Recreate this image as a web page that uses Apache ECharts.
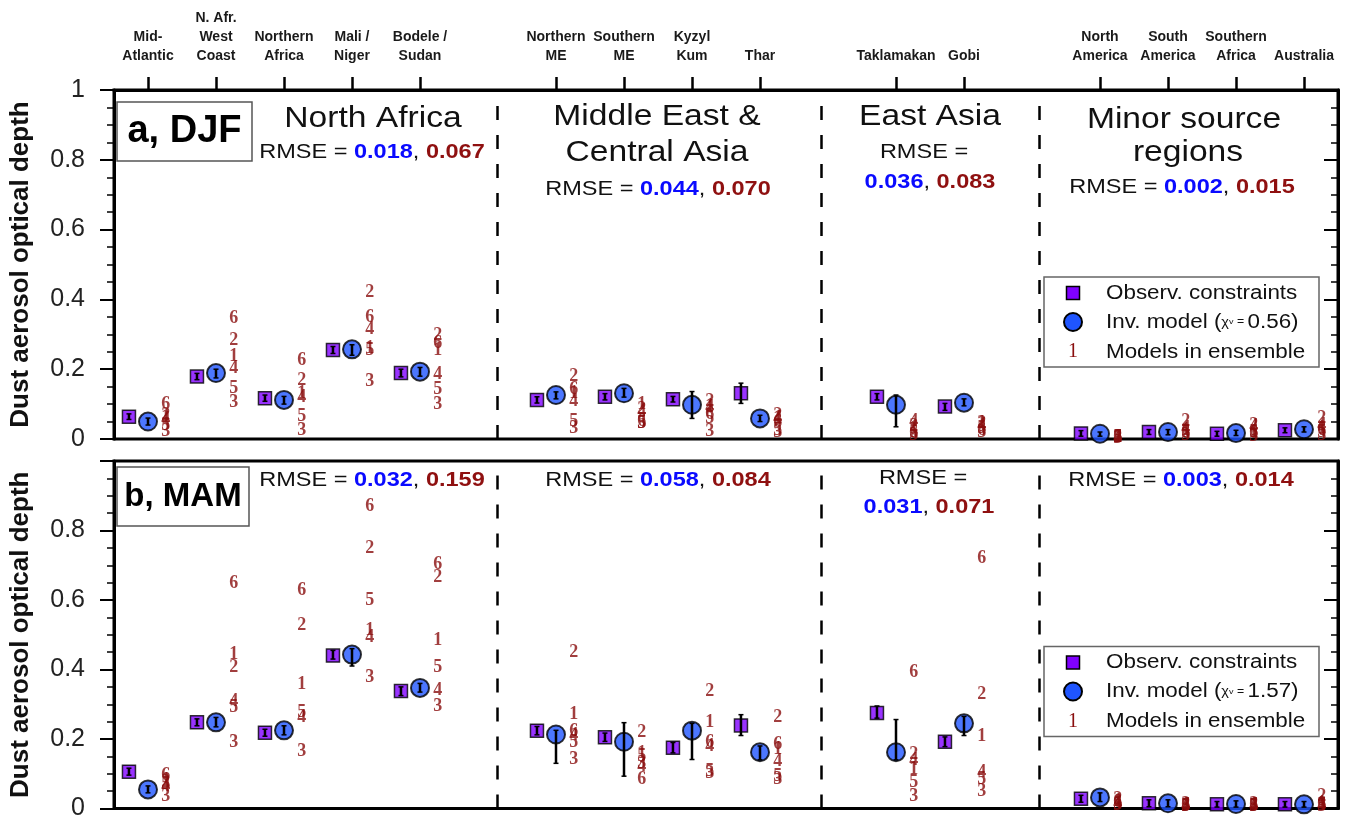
<!DOCTYPE html>
<html><head><meta charset="utf-8">
<script src="https://cdn.jsdelivr.net/npm/echarts@6/dist/echarts.min.js"></script>
<style>html,body{margin:0;padding:0;background:#fff}#c{width:1353px;height:821px}</style>
</head><body><div id="c"></div>
<script>
// ---------- DATA ----------
const regions = ['Mid-\nAtlantic','N. Afr.\nWest\nCoast','Northern\nAfrica','Mali /\nNiger','Bodele /\nSudan',
  'Northern\nME','Southern\nME','Kyzyl\nKum','Thar','Taklamakan','Gobi',
  'North\nAmerica','South\nAmerica','Southern\nAfrica','Australia'];
const regionSlot = [0,1,2,3,4,6,7,8,9,11,12,14,15,16,17];
const yTicks = [0,0.2,0.4,0.6,0.8,1];

// DJF
const djfObs    = [0.064,0.179,0.117,0.255,0.189,0.112,0.121,0.114,0.131,0.121,0.093,0.016,0.020,0.015,0.025];
const djfObsLo  = [0.056,0.170,0.108,0.245,0.178,0.103,0.112,0.106,0.102,0.112,0.082,0.008,0.013,0.008,0.018];
const djfObsHi  = [0.072,0.188,0.126,0.265,0.200,0.121,0.130,0.122,0.160,0.130,0.102,0.024,0.027,0.022,0.032];
const djfInv    = [0.050,0.189,0.112,0.257,0.193,0.126,0.131,0.098,0.059,0.098,0.104,0.015,0.020,0.017,0.028];
const djfInvLo  = [0.040,0.175,0.100,0.240,0.180,0.115,0.120,0.059,0.050,0.035,0.095,0.008,0.012,0.010,0.020];
const djfInvHi  = [0.060,0.200,0.122,0.270,0.205,0.135,0.145,0.136,0.068,0.126,0.115,0.020,0.027,0.025,0.035];
const djfModel1 = [0.063,0.238,0.130,0.260,0.253,0.132,0.098,0.095,0.058,0.030,0.045,0.005,0.025,0.020,0.030];
const djfModel2 = [0.069,0.282,0.169,0.420,0.298,0.179,0.085,0.107,0.069,0.035,0.045,0.006,0.052,0.040,0.060];
const djfModel3 = [0.021,0.105,0.026,0.164,0.098,0.031,0.045,0.021,0.020,0.010,0.020,0.003,0.010,0.008,0.010];
const djfModel4 = [0.055,0.203,0.120,0.313,0.184,0.107,0.078,0.090,0.060,0.050,0.040,0.004,0.030,0.035,0.040];
const djfModel5 = [0.040,0.145,0.064,0.255,0.141,0.050,0.045,0.060,0.025,0.020,0.030,0.004,0.020,0.020,0.020];
const djfModel6 = [0.098,0.346,0.224,0.349,0.275,0.141,0.050,0.072,0.048,0.015,0.025,0.004,0.015,0.015,0.025];

// MAM
const mamObs    = [0.106,0.248,0.218,0.440,0.338,0.224,0.205,0.175,0.239,0.275,0.192,0.028,0.015,0.012,0.012];
const mamObsLo  = [0.096,0.238,0.208,0.430,0.325,0.212,0.193,0.160,0.210,0.260,0.178,0.018,0.005,0.004,0.004];
const mamObsHi  = [0.116,0.258,0.228,0.455,0.350,0.236,0.217,0.190,0.270,0.295,0.206,0.038,0.025,0.020,0.020];
const mamInv    = [0.055,0.248,0.225,0.443,0.347,0.213,0.192,0.224,0.162,0.162,0.245,0.032,0.015,0.013,0.012];
const mamInvLo  = [0.045,0.235,0.212,0.410,0.335,0.130,0.093,0.141,0.140,0.140,0.210,0.020,0.005,0.004,0.004];
const mamInvHi  = [0.065,0.262,0.238,0.460,0.360,0.225,0.247,0.245,0.180,0.256,0.265,0.045,0.025,0.022,0.020];
const mamModel1 = [0.080,0.443,0.357,0.512,0.483,0.270,0.160,0.247,0.170,0.112,0.208,0.020,0.010,0.010,0.015];
const mamModel2 = [0.075,0.405,0.528,0.750,0.664,0.448,0.218,0.338,0.261,0.155,0.328,0.025,0.012,0.012,0.035];
const mamModel3 = [0.035,0.191,0.165,0.378,0.294,0.141,0.130,0.100,0.085,0.035,0.050,0.008,0.005,0.005,0.005];
const mamModel4 = [0.065,0.309,0.261,0.493,0.340,0.210,0.120,0.180,0.136,0.140,0.103,0.015,0.008,0.008,0.010];
const mamModel5 = [0.070,0.290,0.277,0.599,0.407,0.190,0.150,0.107,0.093,0.074,0.085,0.012,0.007,0.007,0.008];
const mamModel6 = [0.095,0.647,0.628,0.870,0.702,0.222,0.083,0.190,0.184,0.393,0.719,0.018,0.010,0.010,0.012];

// ---------- STYLE / LAYOUT ----------
const FONT = "'Liberation Sans', Arial, Helvetica, sans-serif";
const SERIF = "'Liberation Serif', 'Times New Roman', serif";
const OBS_C = '#8000ff', INV_C = '#1f55ff', MOD_C = '#8a0e0e', BLUE = '#0a0aff', RED = '#8f1010';
const OFF_OBS = -0.28, OFF_INV = 0, OFF_MOD = 0.26;
const dividers = [5.14, 9.9, 13.1];
const SX = 1.12;

const topLabels = Array.from({length:18}, () => '');
regionSlot.forEach((s, i) => { topLabels[s] = regions[i]; });

function errSeries(xi, yi, off, lo, hi) {
  return {
    type: 'custom', xAxisIndex: xi, yAxisIndex: yi, silent: true, z: 6,
    data: regionSlot.map((s, i) => [s + off, lo[i], hi[i]]),
    encode: {x: 0, y: [1, 2]},
    renderItem: (params, api) => {
      const x = api.value(0);
      const p1 = api.coord([x, api.value(1)]);
      const p2 = api.coord([x, api.value(2)]);
      return {type: 'group', children: [
        {type: 'line', shape: {x1: p1[0], y1: p1[1], x2: p2[0], y2: p2[1]}, style: {stroke: '#000', lineWidth: 2.5}},
        {type: 'line', shape: {x1: p1[0]-2.5, y1: p1[1], x2: p1[0]+2.5, y2: p1[1]}, style: {stroke: '#000', lineWidth: 1.5}},
        {type: 'line', shape: {x1: p2[0]-2.5, y1: p2[1], x2: p2[0]+2.5, y2: p2[1]}, style: {stroke: '#000', lineWidth: 1.5}}
      ]};
    }
  };
}

function panelSeries(xi, yi, obs, obsLo, obsHi, inv, invLo, invHi, models) {
  const s = [];
  s.push({
    type: 'scatter', name: 'Observ. constraints', xAxisIndex: xi, yAxisIndex: yi, z: 5,
    symbol: 'rect', symbolSize: 13,
    itemStyle: {color: OBS_C, borderColor: '#000', borderWidth: 1.5},
    data: regionSlot.map((p, i) => [p + OFF_OBS, obs[i]]),
    markLine: {
      silent: true, symbol: 'none', label: {show: false},
      lineStyle: {color: '#000', width: 2.5, type: [14, 15]},
      data: dividers.map(v => ({xAxis: v}))
    }
  });
  s.push({
    type: 'scatter', name: 'Inv. model', xAxisIndex: xi, yAxisIndex: yi, z: 5,
    symbol: 'circle', symbolSize: 18,
    itemStyle: {color: INV_C, borderColor: '#000', borderWidth: 2},
    data: regionSlot.map((p, i) => [p + OFF_INV, inv[i]])
  });
  s.push(errSeries(xi, yi, OFF_OBS, obsLo, obsHi));
  s.push(errSeries(xi, yi, OFF_INV, invLo, invHi));
  models.forEach((vals, m) => {
    s.push({
      type: 'scatter', name: 'Model ' + (m + 1), xAxisIndex: xi, yAxisIndex: yi, z: 4,
      symbol: 'circle', symbolSize: 1, itemStyle: {color: 'rgba(0,0,0,0)'},
      data: regionSlot.map((p, i) => [p + OFF_MOD, vals[i]]),
      label: {show: true, position: 'inside', formatter: String(m + 1),
        fontFamily: SERIF, fontSize: 18, fontWeight: 'bold', color: MOD_C}
    });
  });
  return s;
}

function yAxisDef(grid, left, showOne) {
  const ax = {
    type: 'value', gridIndex: grid, position: left ? 'left' : 'right',
    min: yTicks[0], max: yTicks[yTicks.length - 1], interval: yTicks[1] - yTicks[0],
    axisLine: {show: true, onZero: false, lineStyle: {color: '#000', width: 3}},
    axisTick: {show: true, inside: !left, length: 14, lineStyle: {color: '#000', width: 2}},
    minorTick: {show: true, splitNumber: 4, length: 7, lineStyle: {color: '#000', width: 1.5}},
    splitLine: {show: false},
    axisLabel: left ? {
      show: true, margin: 29, fontFamily: FONT, fontSize: 25, color: '#222',
      formatter: v => (!showOne && v === 1) ? '' : String(v)
    } : {show: false}
  };
  if (left) {
    ax.name = 'Dust aerosol optical depth';
    ax.nameLocation = 'middle';
    ax.nameGap = 80;
    ax.nameTextStyle = {fontFamily: FONT, fontSize: 26, fontWeight: 'bold', color: '#111'};
  }
  return ax;
}

function T(x, y, text, font, fill, align, sx, rich) {
  const st = {text: text, font: font, fill: fill || '#111',
    align: align || 'center', textAlign: align || 'center',
    verticalAlign: 'middle', textVerticalAlign: 'middle'};
  if (rich) st.rich = rich;
  return {type: 'text', x: x, y: y, scaleX: sx || 1, silent: true, z: 100, style: st};
}

const rmseRich = {
  k: {font: '21px ' + FONT, fill: '#111'},
  b: {font: 'bold 21px ' + FONT, fill: BLUE},
  r: {font: 'bold 21px ' + FONT, fill: RED}
};
function rmse(x, y, a, b) {
  return T(x, y, '{k|RMSE = }{b|' + a + '}{k|, }{r|' + b + '}', '21px ' + FONT, '#111', 'center', SX, rmseRich);
}
function rmseVals(x, y, a, b) {
  return T(x, y, '{b|' + a + '}{k|, }{r|' + b + '}', '21px ' + FONT, '#111', 'center', SX, rmseRich);
}
const BIG = '30px ' + FONT;

function legendGroup(y0, chi) {
  const lf = '20px ' + FONT;
  return [
    {type: 'rect', shape: {x: 1044, y: y0, width: 275, height: 90}, style: {fill: '#fff', stroke: '#666', lineWidth: 1.5}, z: 90, silent: true},
    {type: 'rect', shape: {x: 1066.5, y: y0 + 9.5, width: 13, height: 13}, style: {fill: OBS_C, stroke: '#000', lineWidth: 1.5}, z: 95, silent: true},
    {type: 'circle', shape: {cx: 1073, cy: y0 + 45, r: 9}, style: {fill: INV_C, stroke: '#000', lineWidth: 2}, z: 95, silent: true},
    T(1073, y0 + 75, '1', '20px ' + SERIF, MOD_C, 'center', 1),
    T(1106, y0 + 16, 'Observ. constraints', lf, '#111', 'left', SX),
    T(1106, y0 + 45, '{t|Inv. model (}{c|χ}{v|v}{e| = }{t|' + chi + ')}', lf, '#111', 'left', SX,
      {t: {font: lf, fill: '#111'}, c: {font: '13px ' + FONT, fill: '#111'}, v: {font: '8px ' + FONT, fill: '#111'}, e: {font: '11px ' + FONT, fill: '#111'}}),
    T(1106, y0 + 75, 'Models in ensemble', lf, '#111', 'left', SX)
  ];
}

const graphics = [
  // panel a
  {type: 'rect', shape: {x: 117, y: 102, width: 135, height: 59}, style: {fill: '#fff', stroke: '#555', lineWidth: 1.5}, z: 90, silent: true},
  T(184.5, 132, 'a, DJF', 'bold 38px ' + FONT, '#000', 'center', 1),
  T(373, 119, 'North Africa', BIG, '#111', 'center', SX),
  rmse(372, 152, '0.018', '0.067'),
  T(657, 117, 'Middle East &', BIG, '#111', 'center', SX),
  T(657, 153, 'Central Asia', BIG, '#111', 'center', SX),
  rmse(658, 189, '0.044', '0.070'),
  T(930, 117, 'East Asia', BIG, '#111', 'center', SX),
  T(924, 152, 'RMSE =', '21px ' + FONT, '#111', 'center', SX),
  rmseVals(930, 182, '0.036', '0.083'),
  T(1184, 120, 'Minor source', BIG, '#111', 'center', SX),
  T(1188, 153, 'regions', BIG, '#111', 'center', SX),
  rmse(1182, 187, '0.002', '0.015'),
  ...legendGroup(277, '0.56'),
  // panel b
  {type: 'rect', shape: {x: 117, y: 467, width: 132, height: 59}, style: {fill: '#fff', stroke: '#555', lineWidth: 1.5}, z: 90, silent: true},
  T(183, 497, 'b, MAM', 'bold 33px ' + FONT, '#000', 'center', 1),
  rmse(372, 480, '0.032', '0.159'),
  rmse(658, 480, '0.058', '0.084'),
  T(923, 478, 'RMSE =', '21px ' + FONT, '#111', 'center', SX),
  rmseVals(929, 507, '0.031', '0.071'),
  rmse(1181, 480, '0.003', '0.014'),
  ...legendGroup(646.5, '1.57')
];

const option = {
  animation: false,
  backgroundColor: '#fff',
  grid: [
    {left: 112, right: 15, top: 90, height: 349, show: true, borderColor: '#000', borderWidth: 3, backgroundColor: 'transparent'},
    {left: 112, right: 15, top: 461, height: 348, show: true, borderColor: '#000', borderWidth: 3, backgroundColor: 'transparent'}
  ],
  xAxis: [
    {type: 'value', gridIndex: 0, min: -0.5, max: 17.5, show: false, axisLine: {onZero: false}},
    {type: 'value', gridIndex: 1, min: -0.5, max: 17.5, show: false, axisLine: {onZero: false}},
    {type: 'category', gridIndex: 0, position: 'top', data: topLabels, boundaryGap: true,
      axisLine: {show: true, onZero: false, lineStyle: {color: '#000', width: 3}},
      axisTick: {show: true, alignWithLabel: true, length: 13, interval: (i, v) => v !== '', lineStyle: {color: '#000', width: 2.5}},
      axisLabel: {interval: 0, margin: 24, fontFamily: FONT, fontSize: 14, fontWeight: 'bold', color: '#1a1a1a', lineHeight: 19, align: 'center'},
      splitLine: {show: false}}
  ],
  yAxis: [
    yAxisDef(0, true, true),
    yAxisDef(1, true, false),
    yAxisDef(0, false, true),
    yAxisDef(1, false, false)
  ],
  series: [
    ...panelSeries(0, 0, djfObs, djfObsLo, djfObsHi, djfInv, djfInvLo, djfInvHi,
      [djfModel1, djfModel2, djfModel3, djfModel4, djfModel5, djfModel6]),
    ...panelSeries(1, 1, mamObs, mamObsLo, mamObsHi, mamInv, mamInvLo, mamInvHi,
      [mamModel1, mamModel2, mamModel3, mamModel4, mamModel5, mamModel6])
  ],
  graphic: graphics
};

const chart = echarts.init(document.getElementById('c'));
chart.setOption(option);
</script>
</body></html>
